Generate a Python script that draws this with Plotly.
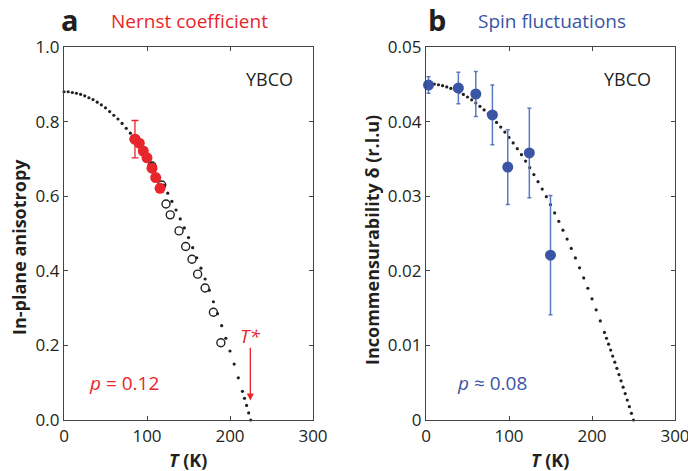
import plotly.graph_objects as go

# ---------------- data: panel a (Nernst coefficient) ----------------
curve_a_T = [0, 5, 10, 15, 20, 25, 30, 35, 40, 45, 50, 55, 60, 65, 70, 75, 80, 85, 90, 95,
             100, 105, 110, 115, 120, 125, 130, 135, 140, 145, 150, 155, 160, 165, 170, 175,
             180, 185, 190, 195, 200, 205, 210, 215, 217.5, 220, 222.5, 225]
curve_a_v = [0.880, 0.880, 0.878, 0.876, 0.873, 0.869, 0.864, 0.859, 0.852, 0.845, 0.837,
             0.827, 0.817, 0.807, 0.795, 0.782, 0.769, 0.754, 0.739, 0.723, 0.706, 0.688,
             0.670, 0.650, 0.630, 0.608, 0.586, 0.563, 0.539, 0.515, 0.489, 0.462, 0.435,
             0.407, 0.378, 0.348, 0.317, 0.285, 0.253, 0.219, 0.185, 0.150, 0.113, 0.077,
             0.058, 0.039, 0.019, 0.0]

open_T = [106, 117.7, 122.9, 128, 138.6, 146.6, 154.2, 161, 170, 180, 189]
open_v = [0.681, 0.630, 0.579, 0.550, 0.507, 0.465, 0.431, 0.391, 0.354, 0.289, 0.207]

nernst_T = [85.5, 90.7, 95.5, 100, 106, 110.5, 115.7]
nernst_v = [0.753, 0.742, 0.721, 0.703, 0.675, 0.650, 0.621]
nernst_err = 0.05

tstar_T = 224.5

# ---------------- data: panel b (Spin fluctuations) ----------------
curve_b_T = [0, 5, 10, 15, 20, 25, 30, 35, 40, 45, 50, 55, 60, 65, 70, 75, 80, 85, 90, 95,
             100, 105, 110, 115, 120, 125, 130, 135, 140, 145, 150, 155, 160, 165, 170, 175,
             180, 185, 190, 195, 200, 205, 210, 215, 217.5, 220, 222.5, 225, 227.5, 230,
             232.5, 235, 237.5, 240, 242.5, 245, 247.5, 250]
curve_b_v = [0.04510, 0.04508, 0.04503, 0.04494, 0.04481, 0.04465, 0.04445, 0.04422,
             0.04395, 0.04364, 0.04330, 0.04292, 0.04250, 0.04205, 0.04156, 0.04104,
             0.04048, 0.03989, 0.03926, 0.03859, 0.03788, 0.03714, 0.03637, 0.03556,
             0.03471, 0.03383, 0.03290, 0.03195, 0.03096, 0.02993, 0.02886, 0.02776,
             0.02663, 0.02545, 0.02425, 0.02300, 0.02172, 0.02040, 0.01905, 0.01766,
             0.01624, 0.01477, 0.01328, 0.01174, 0.01096, 0.01017, 0.00938, 0.00857,
             0.00775, 0.00693, 0.00609, 0.00525, 0.00440, 0.00354, 0.00267, 0.00179,
             0.00090, 0.0]

spin_T = [3, 39, 60, 80, 98.5, 124.5, 150]
spin_v = [0.0449, 0.0445, 0.0437, 0.0409, 0.0339, 0.0358, 0.0221]
spin_err = [0.0011, 0.0021, 0.0030, 0.0040, 0.0050, 0.0060, 0.0080]

x_ticks = [0, 100, 200, 300]
ya_ticks = [0.0, 0.2, 0.4, 0.6, 0.8, 1.0]
ya_text = ["0.0", "0.2", "0.4", "0.6", "0.8", "1.0"]
yb_ticks = [0, 0.01, 0.02, 0.03, 0.04, 0.05]
yb_text = ["0", "0.01", "0.02", "0.03", "0.04", "0.05"]

RED = "#E8252B"
BLUE = "#3A55A6"
BLUE_ERR = "#5C7AC4"
DARK = "#231F20"
FONT = "Open Sans, Noto Sans, sans-serif"

W, H = 688, 471
def px(x):
    return x / W
def py(y):
    return 1 - y / H

fig = go.Figure()

# panel a
fig.add_trace(go.Scatter(x=open_T, y=open_v, mode="markers", xaxis="x", yaxis="y",
                         marker=dict(symbol="circle-open", size=8, color=DARK,
                                     line=dict(width=1.4, color=DARK)),
                         cliponaxis=False, showlegend=False))
fig.add_trace(go.Scatter(x=curve_a_T, y=curve_a_v, mode="markers", xaxis="x", yaxis="y",
                         marker=dict(size=3.2, color=DARK), cliponaxis=False,
                         showlegend=False))
fig.add_trace(go.Scatter(x=nernst_T[:1], y=nernst_v[:1], mode="markers", xaxis="x", yaxis="y",
                         error_y=dict(type="constant", value=nernst_err, color=RED,
                                      thickness=1.3, width=3.5),
                         marker=dict(size=11, color=RED), showlegend=False))
fig.add_trace(go.Scatter(x=nernst_T, y=nernst_v, mode="markers", xaxis="x", yaxis="y",
                         marker=dict(size=11, color=RED), showlegend=False))

# panel b
fig.add_trace(go.Scatter(x=curve_b_T, y=curve_b_v, mode="markers", xaxis="x2", yaxis="y2",
                         marker=dict(size=3.2, color=DARK), cliponaxis=False,
                         showlegend=False))
fig.add_trace(go.Scatter(x=spin_T, y=spin_v, mode="markers", xaxis="x2", yaxis="y2",
                         error_y=dict(type="data", array=spin_err, color=BLUE_ERR,
                                      thickness=1.5, width=2),
                         marker=dict(size=11, color=BLUE), cliponaxis=False,
                         showlegend=False))

axis_common = dict(showline=True, linecolor="#444", linewidth=1.3, mirror="ticks",
                   ticks="inside", ticklen=4, tickwidth=1.1, tickcolor="#444",
                   showgrid=False, zeroline=False, automargin=False,
                   ticklabeloverflow="allow",
                   tickfont=dict(family=FONT, size=17, color=DARK))

ydom = [51 / H, 424 / H]
fig.update_layout(
    width=W, height=H, margin=dict(l=0, r=0, t=0, b=0, pad=0, autoexpand=False),
    paper_bgcolor="white", plot_bgcolor="white",
    xaxis=dict(domain=[px(64), px(313)], range=[0, 300], tickvals=x_ticks,
               anchor="y", **axis_common),
    yaxis=dict(domain=ydom, range=[0, 1], tickvals=ya_ticks, ticktext=ya_text,
               anchor="x", **axis_common),
    xaxis2=dict(domain=[px(426), px(675)], range=[0, 300], tickvals=x_ticks,
                anchor="y2", **axis_common),
    yaxis2=dict(domain=ydom, range=[0, 0.05], tickvals=yb_ticks, ticktext=yb_text,
                anchor="x2", **axis_common),
)

ann = []
def text(x, y, s, size=17, color=DARK, bold=False, xanchor="center", angle=0):
    ann.append(dict(x=px(x), y=py(y), xref="paper", yref="paper", text=s, showarrow=False,
                    xanchor=xanchor, yanchor="middle", textangle=angle,
                    font=dict(family=FONT, size=size, color=color,
                              weight="bold" if bold else "normal")))

text(70, 20, "a", size=29, bold=True)
text(109, 21, "Nernst coefficient", size=19, color=RED, xanchor="left")
text(437, 20, "b", size=29, bold=True)
text(476, 21, "Spin fluctuations", size=19, color=BLUE, xanchor="left")

text(269, 79, "YBCO", size=18)
text(627, 79, "YBCO", size=18)

text(87, 383, "<i>p</i> = 0.12", size=19, color=RED, xanchor="left")
text(455, 383, "<i>p</i> ≈ 0.08", size=19, color=BLUE, xanchor="left")

text(19, 247, "In-plane anisotropy", size=18, bold=True, angle=-90)
text(372, 240, "Incommensurability δ (r.l.u)", size=18, bold=True, angle=-90)
text(188, 460, "<i>T</i> (K)", size=18, bold=True)
text(550, 460, "<i>T</i> (K)", size=18, bold=True)

# T* label and arrow (data coordinates)
ann.append(dict(x=tstar_T, y=0.225, xref="x", yref="y", text="<i>T*</i>", showarrow=False,
                font=dict(family=FONT, size=19, color=RED)))
ann.append(dict(x=tstar_T, y=0.052, xref="x", yref="y", ax=tstar_T, ay=0.198,
                axref="x", ayref="y", text="", showarrow=True, arrowhead=2,
                arrowsize=1.1, arrowwidth=1.3, arrowcolor=RED))

fig.update_layout(annotations=ann)
fig.write_html("out.html", config={"displayModeBar": False},
               post_script="document.body.style.margin='0';document.body.style.overflow='hidden';")
